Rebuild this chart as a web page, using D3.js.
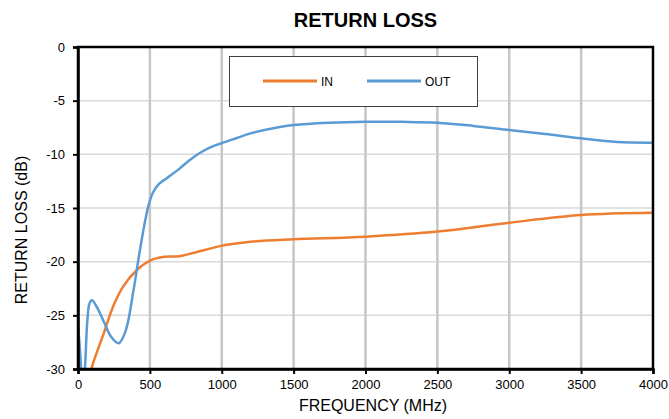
<!DOCTYPE html>
<html>
<head>
<meta charset="utf-8">
<script src="https://cdn.jsdelivr.net/npm/d3@7"></script>
<style>
  body { margin: 0; background: #fff; }
  text { font-family: "Liberation Sans", Arial, sans-serif; fill: #000; }
</style>
</head>
<body>
<svg id="chart" width="669" height="419"></svg>
<script>
// frequency (MHz) and return loss (dB)
const inFreq  = [0, 15, 50, 93, 176, 250, 315, 408, 501, 600, 700, 800, 988, 1200, 1500, 2000, 2500, 3000, 3500, 4000];
const inLoss  = [-27.3, -30.2, -33, -30, -26.8, -24.0, -22.3, -20.8, -19.9, -19.55, -19.5, -19.2, -18.55, -18.15, -17.92, -17.67, -17.2, -16.37, -15.65, -15.44];

const outFreq = [0, 10, 20, 30, 40, 50, 65, 80, 97, 130, 180, 230, 283, 330, 387, 431, 470, 494, 520, 560, 620, 700, 780, 850, 920, 1000, 1100, 1200, 1350, 1500, 1750, 2000, 2250, 2500, 2750, 3000, 3250, 3500, 3750, 4000];
const outLoss = [-26.0, -27.5, -29.5, -31.5, -31.5, -29.5, -25.5, -23.9, -23.6, -24.2, -25.6, -27.0, -27.6, -26.5, -22.6, -18.9, -16.0, -14.6, -13.6, -12.8, -12.2, -11.4, -10.5, -9.85, -9.35, -8.95, -8.5, -8.05, -7.6, -7.27, -7.05, -6.96, -6.97, -7.05, -7.35, -7.73, -8.1, -8.51, -8.85, -8.91];

const xTicks = [0, 500, 1000, 1500, 2000, 2500, 3000, 3500, 4000];
const yTicks = [0, -5, -10, -15, -20, -25, -30];

const seriesNames = ["IN", "OUT"];
const colors = {IN: "#ED7D31", OUT: "#5B9BD5"};

const svg = d3.select("#chart"),
      width = +svg.attr("width"),
      height = +svg.attr("height"),
      margin = {top: 47, right: 16, bottom: 50, left: 78};

const x = d3.scaleLinear().domain([0, 4000]).range([margin.left, width - margin.right]);
const y = d3.scaleLinear().domain([-30, 0]).range([height - margin.bottom, margin.top]);

// grid lines
svg.append("g")
    .selectAll("line")
    .data(yTicks.filter(d => d > -30 && d < 0))
    .join("line")
    .attr("x1", x(0)).attr("x2", x(4000))
    .attr("y1", d => y(d)).attr("y2", d => y(d))
    .attr("stroke", "#d9d9d9")
    .attr("stroke-width", 1.5);

svg.append("g")
    .selectAll("line")
    .data(xTicks.filter(d => d > 0 && d < 4000))
    .join("line")
    .attr("x1", d => x(d)).attr("x2", d => x(d))
    .attr("y1", y(0)).attr("y2", y(-30))
    .attr("stroke", "#c6c6c6")
    .attr("stroke-width", 2.5);

// clip the series to the plot area
svg.append("clipPath").attr("id", "plotClip")
  .append("rect")
    .attr("x", x(0)).attr("y", y(0))
    .attr("width", x(4000) - x(0))
    .attr("height", y(-30) - y(0));

const line = d3.line()
    .x(d => x(d[0]))
    .y(d => y(d[1]))
    .curve(d3.curveCatmullRom.alpha(0.5));

const series = {
    IN: d3.zip(inFreq, inLoss),
    OUT: d3.zip(outFreq, outLoss)
};

seriesNames.forEach(name => {
    svg.append("path")
        .datum(series[name])
        .attr("clip-path", "url(#plotClip)")
        .attr("d", line)
        .attr("fill", "none")
        .attr("stroke", colors[name])
        .attr("stroke-width", 2.5);
});

// frame
svg.append("rect")
    .attr("x", x(0)).attr("y", y(0))
    .attr("width", x(4000) - x(0))
    .attr("height", y(-30) - y(0))
    .attr("fill", "none")
    .attr("stroke", "#000")
    .attr("stroke-width", 2.5);

// axes
const xAxis = svg.append("g")
    .attr("transform", `translate(0,${y(-30)})`)
    .call(d3.axisBottom(x).tickValues(xTicks).tickSize(5).tickPadding(6).tickFormat(d3.format("d")));

const yAxis = svg.append("g")
    .attr("transform", `translate(${x(0)},0)`)
    .call(d3.axisLeft(y).tickValues(yTicks).tickSize(5).tickPadding(8).tickFormat(d => d === 0 ? "0" : "-" + Math.abs(d)));

[xAxis, yAxis].forEach(g => {
    g.select(".domain").attr("stroke-width", 2.5);
    g.selectAll(".tick line").attr("stroke-width", 2);
    g.selectAll("text")
        .style("font-family", '"Liberation Sans", Arial, sans-serif')
        .style("font-size", "13px")
        .attr("fill", "#000");
});

// title
svg.append("text")
    .attr("x", (x(0) + x(4000)) / 2)
    .attr("y", 27)
    .attr("text-anchor", "middle")
    .style("font-size", "20px")
    .style("font-weight", "bold")
    .text("RETURN LOSS");

// axis titles
svg.append("text")
    .attr("x", 373)
    .attr("y", 411)
    .attr("text-anchor", "middle")
    .style("font-size", "16px")
    .text("FREQUENCY (MHz)");

svg.append("text")
    .attr("transform", "rotate(-90)")
    .attr("x", -230)
    .attr("y", 27)
    .attr("text-anchor", "middle")
    .style("font-size", "16px")
    .text("RETURN LOSS (dB)");

// legend
const legend = svg.append("g");
legend.append("rect")
    .attr("x", 229.5).attr("y", 56.5)
    .attr("width", 248).attr("height", 50)
    .attr("fill", "#fff")
    .attr("stroke", "#404040")
    .attr("stroke-width", 1);

const legendX = {IN: 263, OUT: 367};
seriesNames.forEach(name => {
    legend.append("line")
        .attr("x1", legendX[name]).attr("x2", legendX[name] + 54)
        .attr("y1", 81).attr("y2", 81)
        .attr("stroke", colors[name])
        .attr("stroke-width", 3);
    legend.append("text")
        .attr("x", legendX[name] + 58)
        .attr("y", 85.5)
        .style("font-size", "12px")
        .text(name);
});
</script>
</body>
</html>
